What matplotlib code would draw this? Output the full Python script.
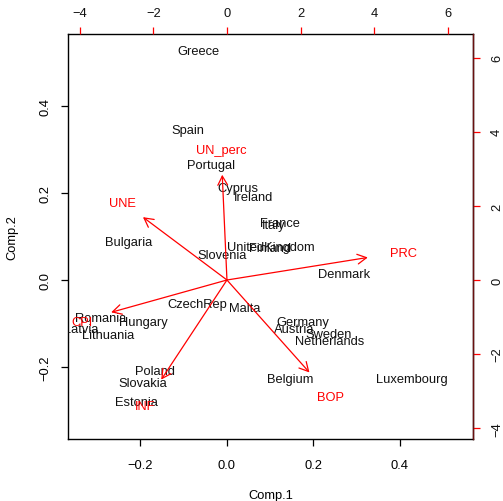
import numpy as np
import matplotlib.pyplot as plt

plt.rcParams['font.family'] = ['Liberation Sans', 'DejaVu Sans']

# principal component scores (Comp.1, Comp.2)
countries = ['Greece', 'Spain', 'Portugal', 'Cyprus', 'Ireland', 'France', 'Italy',
             'UnitedKingdom', 'Finland', 'Slovenia', 'Bulgaria', 'Denmark', 'CzechRep',
             'Malta', 'Romania', 'Hungary', 'Latvia', 'Lithuania', 'Poland', 'Slovakia',
             'Estonia', 'Germany', 'Austria', 'Sweden', 'Netherlands', 'Belgium',
             'Luxembourg']
comp1 = [-0.067, -0.090, -0.037, 0.025, 0.062, 0.123, 0.107,
         0.102, 0.099, -0.012, -0.227, 0.271, -0.069,
         0.042, -0.291, -0.194, -0.338, -0.275, -0.166, -0.194,
         -0.210, 0.176, 0.155, 0.236, 0.238, 0.146,
         0.428]
comp2 = [0.531, 0.349, 0.267, 0.214, 0.195, 0.134, 0.129,
         0.080, 0.078, 0.060, 0.090, 0.018, -0.051,
         -0.062, -0.083, -0.092, -0.110, -0.122, -0.205, -0.234,
         -0.278, -0.092, -0.110, -0.120, -0.136, -0.223,
         -0.225]

# variable loadings (label positions, secondary scale)
variables = ['UN_perc', 'UNE', 'PRC', 'CPI', 'INF', 'BOP']
load1 = [-0.16, -2.85, 4.78, -3.93, -2.23, 2.80]
load2 = [3.55, 2.12, 0.76, -1.09, -3.36, -3.12]

xlim = (-0.3676, 0.569)
ylim = (-0.3655, 0.5655)
ratio = 11.74  # secondary axis units per primary unit

W, H = 503, 502
fig = plt.figure(figsize=(W / 100, H / 100), dpi=100)
pos = [68 / W, 1 - 440 / H, 405 / W, 405 / H]
ax = fig.add_axes(pos)
fs = 9.3

for name, x, y in zip(countries, comp1, comp2):
    ax.text(x, y, name, ha='center', va='center_baseline', fontsize=fs,
            color='#111111', clip_on=True)
ax.set_xlim(xlim)
ax.set_ylim(ylim)
ax.set_xticks([-0.2, 0.0, 0.2, 0.4])
ax.set_yticks([-0.2, 0.0, 0.2, 0.4])
ax.set_xticklabels(['\u22120.2', '0.0', '0.2', '0.4'])
ax.set_yticklabels(['\u22120.2', '0.0', '0.2', '0.4'], rotation=90, va='center')
ax.tick_params(axis='x', length=5, width=0.9, labelsize=fs, pad=9.5)
ax.tick_params(axis='y', length=5, width=0.9, labelsize=fs, pad=7)
ax.set_xlabel('Comp.1', fontsize=fs, labelpad=13)
ax.set_ylabel('Comp.2', fontsize=fs, labelpad=15)
for s in ax.spines.values():
    s.set_linewidth(1.0)
    s.set_color('black')

# overlay axes for the variable arrows
ax2 = fig.add_axes(pos)
ax2.patch.set_visible(False)
ax2.set_xlim(xlim[0] * ratio, xlim[1] * ratio)
ax2.set_ylim(ylim[0] * ratio, ylim[1] * ratio)
for side in ['left', 'bottom', 'top']:
    ax2.spines[side].set_visible(False)
ax2.spines['right'].set_color('#6a1010')
ax2.spines['right'].set_linewidth(1.0)
ax2.xaxis.tick_top()
ax2.yaxis.tick_right()
ticks2 = [-4, -2, 0, 2, 4, 6]
labels2 = ['\u22124', '\u22122', '0', '2', '4', '6']
ax2.set_xticks(ticks2)
ax2.set_xticklabels(labels2)
ax2.set_yticks(ticks2)
ax2.set_yticklabels(labels2, rotation=90, va='center')
ax2.tick_params(axis='x', colors='red', labelcolor='#111111', length=5, width=0.9,
                labelsize=fs, pad=6)
ax2.tick_params(axis='y', colors='red', labelcolor='#111111', length=5, width=0.9,
                labelsize=fs, pad=8)

for name, x, y in zip(variables, load1, load2):
    ax2.annotate('', xy=(0.8 * x, 0.8 * y), xytext=(0, 0),
                 arrowprops=dict(arrowstyle='->,head_length=0.65,head_width=0.35',
                                 color='red', lw=0.9, shrinkA=0, shrinkB=0))
    ax2.text(x, y, name, ha='center', va='center_baseline', fontsize=fs,
             color='red', clip_on=True)

fig.savefig('out.png', dpi=100)
